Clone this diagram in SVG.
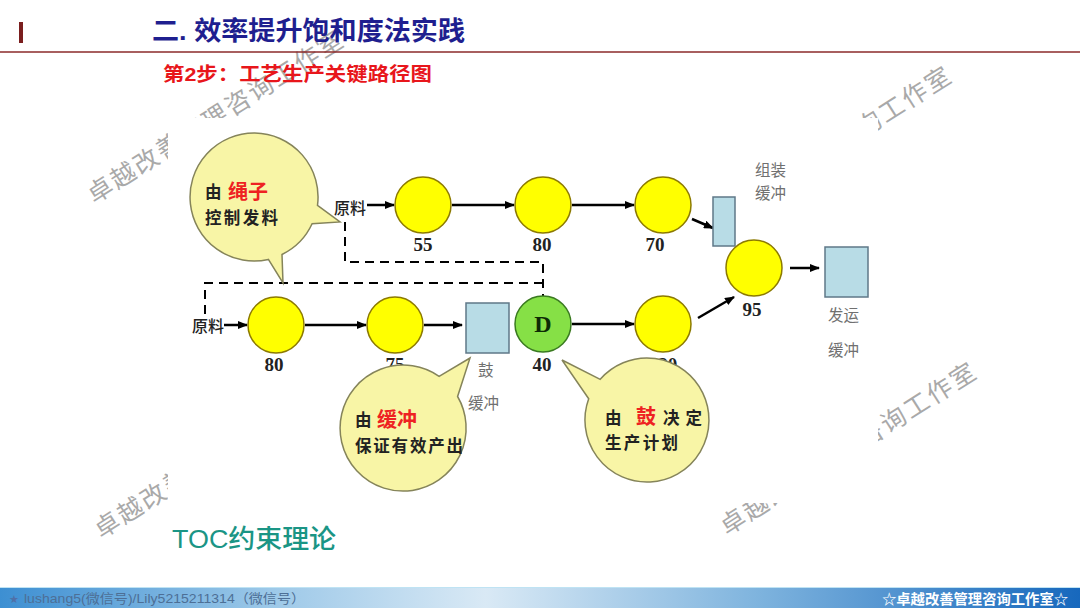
<svg xmlns="http://www.w3.org/2000/svg" width="1080" height="608" viewBox="0 0 1080 608">
<defs>
<linearGradient id="foot" x1="0" y1="0" x2="1" y2="0">
<stop offset="0" stop-color="#3d8fd2"/>
<stop offset="0.25" stop-color="#9cc8e8"/>
<stop offset="0.45" stop-color="#d9e9f5"/>
<stop offset="0.7" stop-color="#7fb4de"/>
<stop offset="1" stop-color="#1768bd"/>
</linearGradient>
<marker id="arr" markerUnits="userSpaceOnUse" markerWidth="10" markerHeight="8" refX="9" refY="4" orient="auto">
<path d="M0,0 L10,4 L0,8 Z" fill="#000"/>
</marker>
<style>
.wm{font-family:"Noto Sans CJK SC","Noto Sans",sans-serif;font-size:25px;letter-spacing:2.2px;fill:#a9a9a9}
.cj{font-family:"Liberation Sans","Noto Sans CJK SC",sans-serif}
.st{fill:#ffff00;stroke:#8c7a00;stroke-width:1.5}
.num{font-family:"Liberation Serif",serif;font-weight:bold;font-size:19px;fill:#222;text-anchor:middle}
.buf{fill:#b8dce6;stroke:#5f7888;stroke-width:1.5}
.gl{font-family:"Noto Sans CJK SC",sans-serif;font-size:15.5px;fill:#707070}
.raw{font-family:"Noto Sans CJK SC",sans-serif;font-size:16px;fill:#222;font-weight:500}
.bub{fill:#f8f5a6;stroke:#85845a;stroke-width:1.5}
.bt{font-family:"Noto Sans CJK SC",sans-serif;font-size:16.5px;fill:#222;font-weight:700}
.br{font-family:"Noto Sans CJK SC",sans-serif;font-size:20px;fill:#ee2222;font-weight:700}
.ln{stroke:#000;stroke-width:2.5;fill:none;marker-end:url(#arr)}
.dash{stroke:#000;stroke-width:2;fill:none;stroke-dasharray:9 6}
</style>
</defs>
<rect width="1080" height="608" fill="#fff"/>
<g id="watermarks">
<text class="wm" transform="translate(94.2,204.3) rotate(-32.4)">卓越改善管理咨询工作室</text>
<text class="wm" transform="translate(702,240) rotate(-32.4)">卓越改善管理咨询工作室</text>
<text class="wm" transform="translate(727,536) rotate(-32.4)">卓越改善管理咨询工作室</text>
<text class="wm" transform="translate(101.2,539.3) rotate(-32.4)">卓越改善管理咨询工作室</text>
</g>
<rect id="picture-bg" x="168" y="118" width="710" height="385" fill="#fff"/>
<g id="header">
<rect x="19" y="22" width="4" height="21" fill="#7a1e1e"/>
<line x1="0" y1="52" x2="1080" y2="52" stroke="#8b2a2a" stroke-width="1.5"/>
<text x="152" y="40" class="cj" font-size="26" font-weight="bold" fill="#1f1f8f" textLength="313" lengthAdjust="spacingAndGlyphs">二. 效率提升饱和度法实践</text>
<text x="163" y="81" class="cj" font-size="19" font-weight="bold" fill="#e8161b" textLength="269" lengthAdjust="spacingAndGlyphs">第2步：工艺生产关键路径图</text>
</g>
<g id="connectors">
<path class="dash" d="M345,222 V262 H543 V296"/>
<path class="dash" d="M205,314 V283 H543"/>
<path class="ln" d="M367,205 H394"/>
<path class="ln" d="M452,205 H514"/>
<path class="ln" d="M572,205 H634"/>
<path class="ln" d="M692,219 L713,228"/>
<path class="ln" d="M224,325 H247"/>
<path class="ln" d="M305,325 H366"/>
<path class="ln" d="M424,325 H462"/>
<path class="ln" d="M572,324 H634"/>
<path class="ln" d="M698,318 L734,297"/>
<path class="ln" d="M790,268 H819"/>
</g>
<g id="raw-top"><text class="raw" x="334" y="214">原料</text></g>
<g id="raw-bottom"><text class="raw" x="192" y="332">原料</text></g>
<g id="n55"><circle class="st" cx="423" cy="205" r="28"/><text class="num" x="423" y="251">55</text></g>
<g id="n80a"><circle class="st" cx="543" cy="205" r="28"/><text class="num" x="542" y="251">80</text></g>
<g id="n70"><circle class="st" cx="663" cy="205" r="28"/><text class="num" x="655" y="251">70</text></g>
<g id="assembly-buffer"><rect class="buf" x="713" y="197" width="22" height="49"/>
<text class="gl" x="755" y="176">组装</text><text class="gl" x="755" y="199">缓冲</text></g>
<g id="n95"><circle class="st" cx="754" cy="268" r="28"/><text class="num" x="752" y="316">95</text></g>
<g id="ship-buffer"><rect class="buf" x="825" y="247" width="43" height="50"/>
<text class="gl" x="828" y="321">发运</text><text class="gl" x="828" y="356">缓冲</text></g>
<g id="n80b"><circle class="st" cx="276" cy="325" r="28"/><text class="num" x="274" y="371">80</text></g>
<g id="n75"><circle class="st" cx="395" cy="325" r="28"/><text class="num" x="395" y="371">75</text></g>
<g id="drum-buffer"><rect class="buf" x="466" y="303" width="43" height="50"/>
<text class="gl" x="478" y="376">鼓</text><text class="gl" x="468" y="409">缓冲</text></g>
<g id="drum"><circle cx="543" cy="324" r="28" fill="#86e046" stroke="#3a7a20" stroke-width="1.5"/>
<text x="543" y="332" font-family="Liberation Serif,serif" font-weight="bold" font-size="24" text-anchor="middle" fill="#0d2a05">D</text>
<text class="num" x="542" y="371">40</text></g>
<g id="n120"><circle class="st" cx="663" cy="324" r="28"/><text class="num" x="663" y="371">120</text></g>
<g id="callout-rope">
<path class="bub" d="M317.5,205.4 L340,222 L312.1,223.8 A64,64 0 0 1 282,254.5 L283,283 L268.4,259.4 A64,64 0 1 1 317.5,205.4 Z"/>
<text class="bt" x="205" y="198" font-size="16">由</text>
<text class="br" x="228" y="199">绳子</text>
<text class="bt" x="205" y="224" textLength="73">控制发料</text>
</g>
<g id="callout-buffer">
<path class="bub" d="M439.1,376.4 L470,358 L457.6,396.5 A63,63 0 1 1 439.1,376.4 Z"/>
<text class="bt" x="355" y="426" font-size="16">由</text>
<text class="br" x="377" y="427">缓冲</text>
<text class="bt" x="355" y="452" textLength="108">保证有效产出</text>
</g>
<g id="callout-drum">
<path class="bub" d="M588.7,398.8 L562,360 L600.2,379.3 A62,62 0 1 1 588.7,398.8 Z"/>
<text class="bt" x="605" y="424" font-size="16">由</text>
<text class="br" x="636" y="424" font-size="19.5">鼓</text>
<text class="bt" x="663" y="424" textLength="39">决定</text>
<text class="bt" x="605" y="449" textLength="73">生产计划</text>
</g>
<g id="caption">
<text x="172" y="548" class="cj" font-size="26" font-weight="500" fill="#1a9585" textLength="164" lengthAdjust="spacingAndGlyphs">TOC约束理论</text>
</g>
<g id="footer">
<rect x="0" y="587" width="1080" height="21" fill="url(#foot)"/>
<line x1="0" y1="587.5" x2="1080" y2="587.5" stroke="#bfe3f3" stroke-width="1"/>
<text x="9" y="603" font-family="DejaVu Sans,sans-serif" font-size="11" fill="#4f70a8">★</text>
<text x="24" y="603" class="cj" font-size="13" fill="#4d6f96" textLength="281" lengthAdjust="spacingAndGlyphs">lushang5(微信号)/Lily5215211314（微信号）</text>
<text x="882" y="604" class="cj" font-size="14" font-weight="bold" fill="#fff" textLength="186" lengthAdjust="spacingAndGlyphs">☆卓越改善管理咨询工作室☆</text>
</g>
</svg>
